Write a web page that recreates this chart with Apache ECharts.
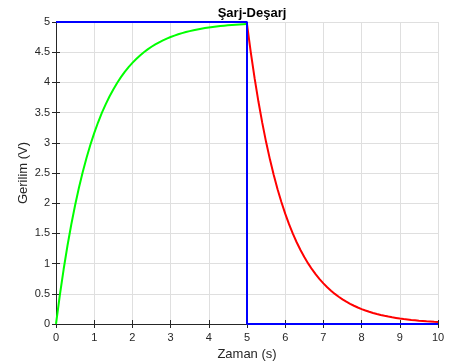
<!DOCTYPE html>
<html><head><meta charset="utf-8">
<script src="https://cdn.jsdelivr.net/npm/echarts@6/dist/echarts.min.js"></script>
<style>html,body{margin:0;padding:0;background:#fff}#c{width:458px;height:363px}</style>
</head><body><div id="c"></div>
<script>
const xTicks = [0,1,2,3,4,5,6,7,8,9,10];
const yTicks = [0,0.5,1,1.5,2,2.5,3,3.5,4,4.5,5];
const chargeT = [0,0.1,0.2,0.3,0.4,0.5,0.6,0.7,0.8,0.9,1,1.1,1.2,1.3,1.4,1.5,1.6,1.7,1.8,1.9,2,2.1,2.2,2.3,2.4,2.5,2.6,2.7,2.8,2.9,3,3.1,3.2,3.3,3.4,3.5,3.6,3.7,3.8,3.9,4,4.1,4.2,4.3,4.4,4.5,4.6,4.7,4.8,4.9,5];
const chargeV = [0,0.476,0.906,1.296,1.648,1.967,2.256,2.517,2.753,2.967,3.161,3.336,3.494,3.637,3.767,3.884,3.991,4.087,4.174,4.252,4.323,4.388,4.446,4.499,4.546,4.590,4.629,4.664,4.696,4.725,4.751,4.775,4.796,4.816,4.833,4.849,4.863,4.876,4.888,4.899,4.908,4.917,4.925,4.932,4.939,4.945,4.950,4.955,4.959,4.963,4.966];
const dischargeT = [5,5.1,5.2,5.3,5.4,5.5,5.6,5.7,5.8,5.9,6,6.1,6.2,6.3,6.4,6.5,6.6,6.7,6.8,6.9,7,7.1,7.2,7.3,7.4,7.5,7.6,7.7,7.8,7.9,8,8.1,8.2,8.3,8.4,8.5,8.6,8.7,8.8,8.9,9,9.1,9.2,9.3,9.4,9.5,9.6,9.7,9.8,9.9,10];
const dischargeV = [4.966,4.494,4.066,3.679,3.329,3.012,2.726,2.466,2.232,2.019,1.827,1.653,1.496,1.354,1.225,1.108,1.003,0.907,0.821,0.743,0.672,0.608,0.550,0.498,0.451,0.408,0.369,0.334,0.302,0.273,0.247,0.224,0.202,0.183,0.166,0.150,0.136,0.123,0.111,0.101,0.091,0.082,0.075,0.067,0.061,0.055,0.050,0.045,0.041,0.037,0.034];
const squareT = [0,5,5,10];
const squareV = [5,5,0,0];

const zip = (a,b)=>a.map((v,i)=>[v,b[i]]);
const FONT = 'Liberation Sans, Arial, sans-serif';
const axisCol = '#262626';
const chart = echarts.init(document.getElementById('c'));
const baseX = {
  type:'value', min:0, max:10, interval:1,
  axisLine:{show:true,lineStyle:{color:axisCol,width:1}},
  axisTick:{show:true,inside:true,length:4,lineStyle:{color:axisCol}},
};
const baseY = {
  type:'value', min:0, max:5, interval:0.5,
  axisLine:{show:true,lineStyle:{color:axisCol,width:1}},
  axisTick:{show:true,inside:true,length:4,lineStyle:{color:axisCol}},
};
chart.setOption({
  animation:false,
  title:{text:'Şarj-Deşarj', left:247, top:2, textAlign:'center',
    textStyle:{fontFamily:FONT,fontSize:13,fontWeight:'bold',color:'#000'}},
  grid:{left:56, top:22, right:20, bottom:39, containLabel:false, outerBoundsMode:'none'},
  xAxis:[
    Object.assign({}, baseX, {position:'bottom',
      axisLabel:{color:axisCol,fontFamily:FONT,fontSize:11,margin:8},
      splitLine:{show:true,lineStyle:{color:'#dfdfdf',width:1}},
      name:'Zaman (s)', nameLocation:'middle', nameGap:24, nameMoveOverlap:false,
      nameTextStyle:{color:axisCol,fontFamily:FONT,fontSize:13}}),
    Object.assign({}, baseX, {position:'top', axisLabel:{show:false}, splitLine:{show:false}})
  ],
  yAxis:[
    Object.assign({}, baseY, {position:'left',
      axisLabel:{color:axisCol,fontFamily:FONT,fontSize:11,margin:6,
        formatter:v=>String(Math.round(v*10)/10)},
      splitLine:{show:true,lineStyle:{color:'#dfdfdf',width:1}},
      name:'Gerilim (V)', nameLocation:'middle', nameGap:26, nameMoveOverlap:false,
      nameTextStyle:{color:axisCol,fontFamily:FONT,fontSize:13}}),
    Object.assign({}, baseY, {position:'right', axisLabel:{show:false}, splitLine:{show:false}})
  ],
  series:[
    {type:'line', data:zip(chargeT,chargeV), showSymbol:false,
      lineStyle:{color:'#00ff00',width:2}, z:3},
    {type:'line', data:zip(dischargeT,dischargeV), showSymbol:false,
      lineStyle:{color:'#ff0000',width:2}, z:3},
    {type:'line', data:zip(squareT,squareV), showSymbol:false,
      lineStyle:{color:'#0000ff',width:2}, z:4}
  ]
});
</script></body></html>
